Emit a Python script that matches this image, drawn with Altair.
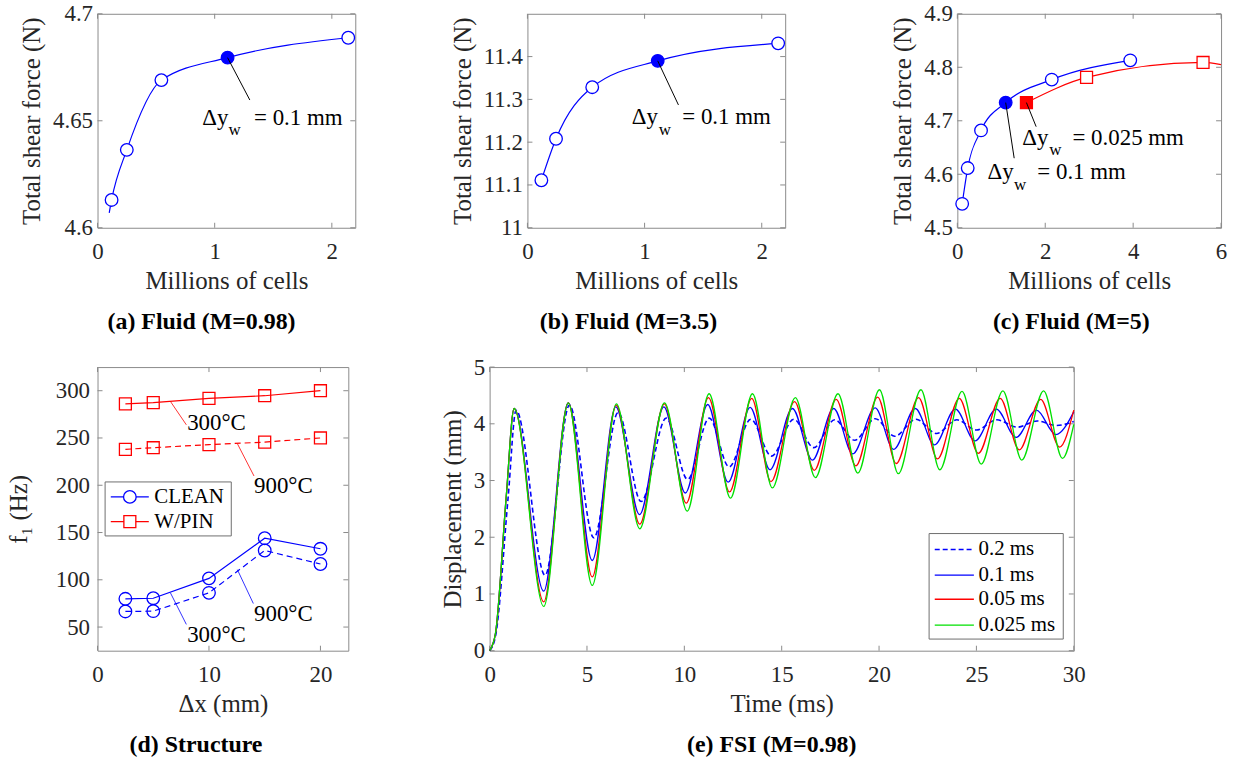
import altair as alt
import pandas as pd

FONT = "Liberation Serif"
BLUE, RED, GREEN = "#0000ff", "#ff0000", "#00e000"
FRAME = "#8a8a8a"
INK = "#262626"
LBL, TTL, ANN, SUBS, SUBT, LEG = 23, 25, 23, 17, 24, 21

# ---------------- (a) Fluid M=0.98 ----------------
a_cells = [0.12, 0.25, 0.545, 1.11, 2.14]
a_force = [4.613, 4.6364, 4.669, 4.6795, 4.6888]
a_line_cells = [0.10, 0.12, 0.25, 0.545, 1.11, 2.14]
a_line_force = [4.607, 4.613, 4.6364, 4.669, 4.6795, 4.6888]
a_sel = 3
a_xticks = [0, 1, 2]
a_yticks = [4.6, 4.65, 4.7]

# ---------------- (b) Fluid M=3.5 ----------------
b_cells = [0.119, 0.244, 0.553, 1.112, 2.14]
b_force = [11.111, 11.208, 11.3285, 11.39, 11.431]
b_sel = 3
b_xticks = [0, 1, 2]
b_yticks = [11, 11.1, 11.2, 11.3, 11.4]

# ---------------- (c) Fluid M=5 ----------------
c_blue_cells = [0.11, 0.236, 0.539, 1.10, 2.148, 3.934]
c_blue_force = [4.5447, 4.6116, 4.682, 4.734, 4.777, 4.813]
c_blue_sel = 3
c_red_cells = [1.572, 2.94, 5.59]
c_red_force = [4.734, 4.781, 4.809]
c_red_sel = 0
c_red_line_cells = [1.572, 2.94, 5.59, 6.0]
c_red_line_force = [4.734, 4.781, 4.809, 4.805]
c_xticks = [0, 2, 4, 6]
c_yticks = [4.5, 4.6, 4.7, 4.8, 4.9]

# ---------------- (d) Structure ----------------
d_dx = [2.5, 5, 10, 15, 20]
d_pin_300 = [286, 287.4, 291.9, 294.7, 300]
d_pin_900 = [238, 239.7, 243, 245.6, 250]
d_clean_300 = [79.9, 80.5, 101.5, 144, 132.8]
d_clean_900 = [66.5, 66.8, 86.2, 131, 116.7]
d_xticks = [0, 10, 20]
d_yticks = [50, 100, 150, 200, 250, 300]

# ---------------- (e) FSI (extrema) ----------------
e_t_02 = [0, 0.3, 0.95, 1.36, 2.85, 4.1, 5.35, 6.6, 7.78, 9.07, 10.17, 11.28, 12.3, 13.41,
          14.48, 15.62, 16.65, 17.72, 18.75, 19.8, 20.8, 21.9, 22.95, 24.0, 25.0, 26.05,
          27.1, 28.12, 29.1, 30]
e_v_02 = [0, 0.25, 2.7, 4.24, 1.33, 4.33, 1.99, 4.2, 2.63, 4.1, 3.02, 4.1, 3.24, 4.08,
          3.43, 4.08, 3.58, 4.07, 3.71, 4.09, 3.78, 4.08, 3.83, 4.07, 3.89, 4.07,
          3.94, 4.05, 3.97, 4.04]
e_t_01 = [0, 0.3, 0.85, 1.26, 2.78, 4.04, 5.27, 6.48, 7.7, 8.95, 10.05, 11.2, 12.25, 13.38,
          14.4, 15.55, 16.58, 17.67, 18.65, 19.8, 20.75, 21.86, 22.85, 23.92, 24.93, 26.02,
          27.04, 28.08, 29.08, 30]
e_v_01 = [0, 0.3, 2.7, 4.27, 1.05, 4.37, 1.59, 4.30, 2.40, 4.30, 2.78, 4.34, 2.97, 4.29,
          3.19, 4.27, 3.36, 4.27, 3.47, 4.28, 3.55, 4.27, 3.63, 4.26, 3.70, 4.26,
          3.76, 4.24, 3.81, 4.21]
e_t_005 = [0, 0.3, 0.85, 1.26, 2.78, 4.04, 5.27, 6.5, 7.71, 8.97, 10.1, 11.24, 12.32, 13.46,
           14.45, 15.66, 16.67, 17.8, 18.81, 19.93, 20.88, 22.03, 23.0, 24.12, 25.1, 26.22,
           27.2, 28.3, 29.27, 30]
e_v_005 = [0, 0.3, 2.7, 4.27, 0.86, 4.37, 1.30, 4.33, 2.23, 4.35, 2.60, 4.46, 2.80, 4.45,
           2.98, 4.39, 3.18, 4.43, 3.26, 4.47, 3.30, 4.46, 3.38, 4.45, 3.48, 4.45,
           3.54, 4.43, 3.59, 4.24]
e_t_0025 = [0, 0.3, 0.85, 1.26, 2.78, 4.04, 5.27, 6.51, 7.71, 8.98, 10.15, 11.27, 12.37, 13.5,
            14.52, 15.7, 16.73, 17.89, 18.91, 20.02, 20.99, 22.15, 23.12, 24.26, 25.25, 26.36,
            27.33, 28.45, 29.42, 30]
e_v_0025 = [0, 0.3, 2.7, 4.27, 0.78, 4.37, 1.15, 4.35, 2.15, 4.37, 2.46, 4.53, 2.69, 4.53,
            2.87, 4.46, 3.05, 4.53, 3.13, 4.60, 3.12, 4.60, 3.19, 4.57, 3.29, 4.58,
            3.36, 4.58, 3.39, 3.99]
e_labels = ["0.2 ms", "0.1 ms", "0.05 ms", "0.025 ms"]
e_xticks = [0, 5, 10, 15, 20, 25, 30]
e_yticks = [0, 1, 2, 3, 4, 5]

# ---------------- annotation text & anchor points (data coordinates) ----------------
a_ann = {"main": (["Δy", "= 0.1 mm"], [0.894, 1.336], [4.648, 4.648]),
         "sub": (["w"], [1.118], [4.6434]),
         "lead": ([1.11], [4.6795], [1.30], [4.6597])}
b_ann = {"main": (["Δy", "= 0.1 mm"], [0.891, 1.322], [11.243, 11.243]),
         "sub": (["w"], [1.12], [11.217]),
         "lead": ([1.112], [11.39], [1.289], [11.287])}
c_ann = {"main": (["Δy", "= 0.1 mm", "Δy", "= 0.025 mm"],
                  [0.686, 1.82, 1.477, 2.62], [4.591, 4.591, 4.655, 4.655]),
         "sub": (["w", "w"], [1.29, 2.09], [4.5703, 4.636]),
         "lead": ([1.10, 1.572], [4.734, 4.734], [1.293, 1.793], [4.630, 4.689])}
d_ann_text = ["300°C", "900°C", "900°C", "300°C"]
d_ann_x = [8.04, 14.04, 14.04, 8.04]
d_ann_y = [266.3, 199.0, 63.4, 41.3]
d_lead = ([6.54, 12.55, 12.55, 6.54], [288.7, 243.9, 110.7, 86.2],
          [7.97, 14.04, 13.98, 7.97], [263.9, 209.8, 74.9, 52.8])
d_lead_col = [RED, RED, BLUE, BLUE]
d_leg_labels = ["CLEAN", "W/PIN"]
d_leg_box = (0.68, 12.0, 146.4, 203.5)
d_leg_y = [187.7, 161.5]
d_leg_line = (1.19, 4.6)
d_leg_sym = 2.9
d_leg_txt = 5.1
e_leg_box = (22.57, 29.46, 0.205, 2.065)
e_leg_y = [1.784, 1.333, 0.907, 0.451]
e_leg_line = (22.86, 24.87)
e_leg_txt = 25.11

NUM = ".4~g"


def enc(xdom, ydom, xvals, yvals, xtitle, ytitle, ylp=5, ytp=8):
    X = alt.X("x:Q", scale=alt.Scale(domain=xdom, nice=False, zero=False),
              axis=alt.Axis(values=xvals, format=NUM, title=xtitle, labelPadding=13,
                            titlePadding=5, labelFlush=False, labelOverlap=False))
    Y = alt.Y("y:Q", scale=alt.Scale(domain=ydom, nice=False, zero=False),
              axis=alt.Axis(values=yvals, format=NUM, title=ytitle, labelPadding=ylp,
                            titlePadding=ytp, labelFlush=False, labelOverlap=False))
    return X, Y


def ticks(X, Y, xvals, yvals, w, h, L=5):
    xt = alt.Chart(pd.DataFrame({"x": xvals})).mark_rule(color=FRAME, strokeWidth=1)
    yt = alt.Chart(pd.DataFrame({"y": yvals})).mark_rule(color=FRAME, strokeWidth=1)
    return [
        xt.encode(x=X, y=alt.value(h), y2=alt.value(h - L)),
        xt.encode(x=X, y=alt.value(0), y2=alt.value(L)),
        yt.encode(y=Y, x=alt.value(0), x2=alt.value(L)),
        yt.encode(y=Y, x=alt.value(w - L), x2=alt.value(w)),
    ]


def line(xs, ys, color, X, Y, dash=None, width=1.2, interp="monotone"):
    kw = dict(color=color, strokeWidth=width, interpolate=interp)
    if dash:
        kw["strokeDash"] = dash
    return alt.Chart(pd.DataFrame({"x": xs, "y": ys})).mark_line(**kw).encode(x=X, y=Y)


def pts(xs, ys, color, X, Y, shape="circle", size=160, fill="white"):
    df = pd.DataFrame({"x": xs, "y": ys})
    if fill is None:
        m = alt.Chart(df).mark_point(shape=shape, size=size, filled=False, color=color,
                                     strokeWidth=1.3, opacity=1)
    else:
        m = alt.Chart(df).mark_point(shape=shape, size=size, filled=True, fill=fill,
                                     stroke=color, strokeWidth=1.3, opacity=1)
    return m.encode(x=X, y=Y)


def segs(x1, y1, x2, y2, X, Y, color="black", width=1.0):
    df = pd.DataFrame({"x": x1, "y": y1, "x2": x2, "y2": y2})
    return alt.Chart(df).mark_rule(color=color, strokeWidth=width).encode(
        x=X, y=Y, x2="x2:Q", y2="y2:Q")


def colored_segs(x1, y1, x2, y2, cols, X, Y, width=0.8):
    df = pd.DataFrame({"x": x1, "y": y1, "x2": x2, "y2": y2, "c": cols})
    return alt.Chart(df).mark_rule(strokeWidth=width).encode(
        x=X, y=Y, x2="x2:Q", y2="y2:Q", color=alt.Color("c:N", scale=None))


def texts(labels, xs, ys, X, Y, size, baseline="alphabetic"):
    df = pd.DataFrame({"x": xs, "y": ys, "t": labels})
    return alt.Chart(df).mark_text(font=FONT, fontSize=size, align="left",
                                   baseline=baseline, color="black").encode(
        x=X, y=Y, text="t:N")


def note_layers(ann, X, Y):
    return [segs(*ann["lead"], X, Y),
            texts(*ann["main"], X, Y, ANN),
            texts(*ann["sub"], X, Y, SUBS)]


def title(t, dx):
    return alt.TitleParams(t, orient="bottom", anchor="middle", font=FONT, fontSize=SUBT,
                           fontWeight="bold", color="black", offset=17, dx=dx)


def box(b, X, Y):
    df = pd.DataFrame({"x": [b[0]], "x2": [b[1]], "y": [b[2]], "y2": [b[3]]})
    return alt.Chart(df).mark_rect(fill="white", stroke="#6e6e6e", strokeWidth=1).encode(
        x=X, x2="x2:Q", y=Y, y2="y2:Q")


def sel(xs, ys, i):
    return [xs[i]], [ys[i]]


def drop(xs, ys, i):
    return [v for k, v in enumerate(xs) if k != i], [v for k, v in enumerate(ys) if k != i]


# ---- (a)
W1, H1 = 259, 215
X, Y = enc([0, 2.2], [4.6, 4.7], a_xticks, a_yticks, "Millions of cells", "Total shear force (N)")
pa = alt.layer(
    *ticks(X, Y, a_xticks, a_yticks, W1, H1),
    line(a_line_cells, a_line_force, BLUE, X, Y),
    pts(*drop(a_cells, a_force, a_sel), BLUE, X, Y),
    pts(*sel(a_cells, a_force, a_sel), BLUE, X, Y, fill=BLUE),
    *note_layers(a_ann, X, Y),
).properties(width=W1, height=H1, title=title("(a) Fluid (M=0.98)", -25))

# ---- (b)
X, Y = enc([0, 2.2], [11, 11.5], b_xticks, b_yticks, "Millions of cells", "Total shear force (N)")
pb = alt.layer(
    *ticks(X, Y, b_xticks, b_yticks, W1, H1),
    line(b_cells, b_force, BLUE, X, Y),
    pts(*drop(b_cells, b_force, b_sel), BLUE, X, Y),
    pts(*sel(b_cells, b_force, b_sel), BLUE, X, Y, fill=BLUE),
    *note_layers(b_ann, X, Y),
).properties(width=W1, height=H1, title=title("(b) Fluid (M=3.5)", -28))

# ---- (c)
WC = 265
X, Y = enc([0, 6], [4.5, 4.9], c_xticks, c_yticks, "Millions of cells", "Total shear force (N)")
pc = alt.layer(
    *ticks(X, Y, c_xticks, c_yticks, WC, H1),
    line(c_blue_cells, c_blue_force, BLUE, X, Y),
    line(c_red_line_cells, c_red_line_force, RED, X, Y),
    pts(*drop(c_blue_cells, c_blue_force, c_blue_sel), BLUE, X, Y),
    pts(*sel(c_blue_cells, c_blue_force, c_blue_sel), BLUE, X, Y, fill=BLUE),
    pts(*drop(c_red_cells, c_red_force, c_red_sel), RED, X, Y, shape="square", size=144),
    pts(*sel(c_red_cells, c_red_force, c_red_sel), RED, X, Y, shape="square", size=144, fill=RED),
    *note_layers(c_ann, X, Y),
).properties(width=WC, height=H1, title=title("(c) Fluid (M=5)", -18))

# ---- (d)
WD, H2 = 252, 285
X, Y = enc([0, 22.5], [25, 325], d_xticks, d_yticks, "Δx (mm)", "f₁ (Hz)", ylp=8, ytp=24)
leg_rows = [(BLUE, "circle"), (RED, "square")]
pd_layers = ticks(X, Y, d_xticks, d_yticks, WD, H2)
for ys, col, shp, dash in [(d_pin_300, RED, "square", None), (d_pin_900, RED, "square", [6, 4]),
                           (d_clean_300, BLUE, "circle", None), (d_clean_900, BLUE, "circle", [6, 4])]:
    pd_layers.append(line(d_dx, ys, col, X, Y, dash=dash, interp="linear"))
    pd_layers.append(pts(d_dx, ys, col, X, Y, shape=shp, size=160 if shp == "circle" else 144,
                         fill=None))
pd_layers.append(colored_segs(*d_lead, d_lead_col, X, Y))
pd_layers.append(texts(d_ann_text, d_ann_x, d_ann_y, X, Y, ANN, baseline="middle"))
pd_layers.append(box(d_leg_box, X, Y))
for (col, shp), yy, lab in zip(leg_rows, d_leg_y, d_leg_labels):
    pd_layers.append(segs([d_leg_line[0]], [yy], [d_leg_line[1]], [yy], X, Y, color=col, width=1.2))
    pd_layers.append(pts([d_leg_sym], [yy], col, X, Y, shape=shp,
                         size=160 if shp == "circle" else 144, fill="white"))
    pd_layers.append(texts([lab], [d_leg_txt], [yy], X, Y, LEG, baseline="middle"))
pdd = alt.layer(*pd_layers).properties(width=WD, height=H2, title=title("(d) Structure", -27))

# ---- (e)
WE = 587
X, Y = enc([0, 30], [0, 5], e_xticks, e_yticks, "Time (ms)", "Displacement (mm)")
e_series = [(e_t_02, e_v_02, BLUE, [5, 3], 1.6), (e_t_01, e_v_01, BLUE, None, 1.3),
            (e_t_005, e_v_005, RED, None, 1.3), (e_t_0025, e_v_0025, GREEN, None, 1.3)]
pe_layers = ticks(X, Y, e_xticks, e_yticks, WE, H2)
for ts, vs, col, dash, wd in e_series:
    pe_layers.append(line(ts, vs, col, X, Y, dash=dash, width=wd))
pe_layers.append(box(e_leg_box, X, Y))
for (ts, vs, col, dash, wd), yy, lab in zip(e_series, e_leg_y, e_labels):
    m = alt.Chart(pd.DataFrame({"x": [e_leg_line[0]], "x2": [e_leg_line[1]], "y": [yy]}))
    kw = dict(color=col, strokeWidth=wd)
    if dash:
        kw["strokeDash"] = dash
    pe_layers.append(m.mark_rule(**kw).encode(x=X, x2="x2:Q", y=Y))
    pe_layers.append(texts([lab], [e_leg_txt], [yy], X, Y, LEG, baseline="middle"))
pe = alt.layer(*pe_layers).properties(width=WE, height=H2, title=title("(e) FSI (M=0.98)", -10))

row1 = alt.hconcat(pa, pb, pc, spacing=173, bounds="flush")
row2 = alt.hconcat(pdd, pe, spacing=142, bounds="flush")

chart = alt.vconcat(row1, row2, spacing=20).properties(
    padding={"left": 6, "top": 0, "right": 5, "bottom": 5}
).configure(
    font=FONT
).configure_view(
    stroke=FRAME, strokeWidth=1
).configure_axis(
    domain=False, ticks=False, grid=False, labelFont=FONT, titleFont=FONT,
    labelFontSize=LBL, titleFontSize=TTL, labelColor=INK, titleColor=INK,
    titleFontWeight="normal"
)

chart.save("out.html", embed_options={"renderer": "svg", "actions": False})
